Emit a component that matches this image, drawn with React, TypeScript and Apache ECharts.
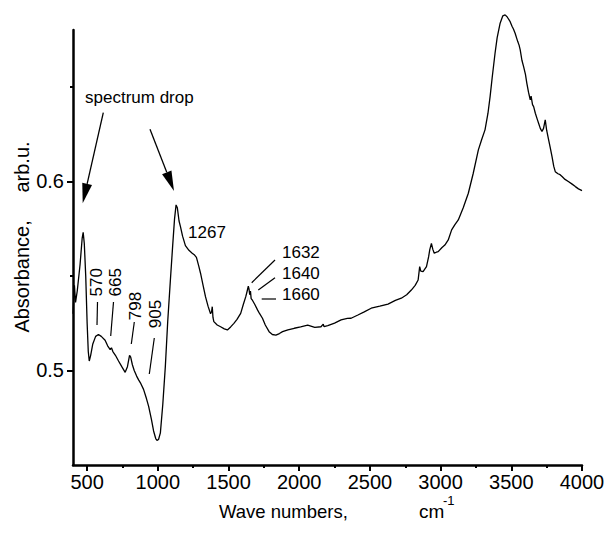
import React, { useEffect, useRef } from "react";
import * as echarts from "echarts";

// ---- data ----
const waveNumbers: number[] = [
  400, 410, 418, 430, 450, 465, 472, 480, 490, 500, 508, 515, 525, 540, 560, 580, 600, 627, 645, 663, 672, 682,
  700, 722, 745, 769, 785, 800, 808, 820, 833, 850, 864, 880, 899, 920, 935, 955, 970, 985, 994, 1005, 1018,
  1035, 1053, 1070, 1089, 1105, 1118, 1129, 1138, 1150, 1160, 1175, 1195, 1220, 1243, 1260, 1273, 1290, 1302,
  1320, 1337, 1355, 1373, 1380, 1385, 1390, 1396, 1420, 1444, 1470, 1492, 1515, 1538, 1560, 1586, 1605, 1622,
  1632, 1640, 1645, 1650, 1655, 1660, 1670, 1685, 1705, 1720, 1740, 1760, 1787, 1810, 1835, 1860, 1882, 1920,
  1965, 2010, 2060, 2110, 2154, 2170, 2175, 2202, 2250, 2296, 2340, 2367, 2415, 2460, 2509, 2570, 2628, 2680,
  2722, 2760, 2793, 2820, 2841, 2852, 2860, 2876, 2900, 2915, 2923, 2935, 2945, 2955, 2970, 2983, 3010, 3030,
  3054, 3078, 3100, 3125, 3160, 3196, 3230, 3267, 3290, 3314, 3335, 3350, 3365, 3385, 3400, 3421, 3440, 3456,
  3470, 3492, 3505, 3515, 3527, 3545, 3555, 3563, 3575, 3587, 3600, 3610, 3622, 3634, 3640, 3650, 3658, 3670,
  3685, 3693, 3705, 3717, 3728, 3740, 3750, 3764, 3775, 3788, 3800, 3811, 3830, 3845, 3859, 3880, 3906, 3930,
  3953, 3975, 4000,
];
const absorbance: number[] = [
  0.53, 0.545, 0.536, 0.542, 0.556, 0.57, 0.573, 0.567, 0.55, 0.525, 0.51, 0.505, 0.508, 0.514, 0.518, 0.519,
  0.518, 0.516, 0.513, 0.511, 0.512, 0.51, 0.508, 0.505, 0.502, 0.499, 0.502, 0.508, 0.507, 0.503, 0.5, 0.497,
  0.495, 0.493, 0.49, 0.485, 0.481, 0.474, 0.468, 0.464, 0.463, 0.4635, 0.467, 0.482, 0.502, 0.526, 0.548,
  0.566, 0.58, 0.5875, 0.586, 0.579, 0.576, 0.571, 0.566, 0.5635, 0.562, 0.561, 0.5598, 0.555, 0.5514, 0.545,
  0.539, 0.534, 0.53, 0.531, 0.5337, 0.528, 0.5258, 0.524, 0.5231, 0.522, 0.5214, 0.523, 0.5249, 0.527, 0.5302,
  0.535, 0.539, 0.542, 0.5445, 0.543, 0.54, 0.542, 0.538, 0.537, 0.535, 0.532, 0.53, 0.5276, 0.524, 0.5205,
  0.519, 0.5187, 0.5195, 0.5205, 0.5215, 0.5223, 0.523, 0.524, 0.5228, 0.5231, 0.5245, 0.5232, 0.5237, 0.525,
  0.5267, 0.5275, 0.5276, 0.5293, 0.531, 0.5329, 0.534, 0.5351, 0.537, 0.5382, 0.54, 0.5425, 0.545, 0.5478,
  0.5549, 0.5525, 0.5522, 0.5549, 0.56, 0.5637, 0.5672, 0.564, 0.562, 0.5625, 0.5628, 0.565, 0.5663, 0.569,
  0.5743, 0.577, 0.5796, 0.586, 0.5937, 0.604, 0.6166, 0.622, 0.6272, 0.636, 0.6448, 0.655, 0.6677, 0.676,
  0.6836, 0.6875, 0.688, 0.687, 0.6844, 0.682, 0.6805, 0.6783, 0.674, 0.672, 0.6695, 0.664, 0.6606, 0.6565,
  0.6518, 0.647, 0.643, 0.645, 0.6405, 0.6395, 0.636, 0.6325, 0.6307, 0.628, 0.6263, 0.628, 0.6325, 0.627,
  0.6219, 0.618, 0.613, 0.608, 0.6051, 0.604, 0.6035, 0.6025, 0.601, 0.5998, 0.5985, 0.5972, 0.596, 0.5951,
];
const xMajorTicks: number[] = [500, 1000, 1500, 2000, 2500, 3000, 3500, 4000];
const xMinorTicks: number[] = [750, 1250, 1750, 2250, 2750, 3250, 3750];
const yMajorTicks: number[] = [0.5, 0.6];
const yMinorTicks: number[] = [0.55, 0.65];
const xTitle = "Wave numbers,";
const xUnit = "cm";
const xUnitExp = "-1";
const yTitle = "Absorbance,     arb.u.";
const dropLabel = "spectrum drop";
const peakLabelsVertical: string[] = ["570", "665", "798", "905"];
const peakLabelsRight: string[] = ["1632", "1640", "1660"];
const peakLabel1267 = "1267";

const FONT = "'Liberation Sans', Arial, Helvetica, sans-serif";

function arrow(sx: number, sy: number, tx: number, ty: number, headLen = 20, headHalf = 5) {
  const dx = tx - sx;
  const dy = ty - sy;
  const len = Math.sqrt(dx * dx + dy * dy);
  const ux = dx / len;
  const uy = dy / len;
  const bx = tx - ux * headLen;
  const by = ty - uy * headLen;
  const px = -uy * headHalf;
  const py = ux * headHalf;
  return [
    { type: "line", shape: { x1: sx, y1: sy, x2: bx, y2: by }, style: { stroke: "#000", lineWidth: 1.3 } },
    {
      type: "polygon",
      shape: { points: [[tx, ty], [bx + px, by + py], [bx - px, by - py]] },
      style: { fill: "#000" },
    },
  ];
}

function seg(x1: number, y1: number, x2: number, y2: number) {
  return { type: "line", shape: { x1, y1, x2, y2 }, style: { stroke: "#000", lineWidth: 1.2 } };
}

function txt(text: string, x: number, y: number, size: number, opts: any = {}) {
  return {
    type: "text",
    x,
    y,
    rotation: opts.rotation || 0,
    style: {
      text,
      fontSize: size,
      fontFamily: FONT,
      fill: "#000",
      align: opts.align || "center",
      verticalAlign: opts.verticalAlign || "middle",
    },
  };
}

export default function App() {
  const ref = useRef<HTMLDivElement>(null);

  useEffect(() => {
    if (!ref.current) return;
    const chart = echarts.init(ref.current, undefined, { renderer: "svg" });
    const data = waveNumbers.map((w, i) => [w, absorbance[i]]);
    const axisCommon = { type: "value", splitLine: { show: false } };
    const rot = Math.PI / 2;

    const graphic: any[] = [
      // axis titles
      txt(xTitle, 219, 511, 18.5, { align: "left" }),
      txt(xUnit, 419, 511, 19, { align: "left" }),
      txt(xUnitExp, 443, 500, 13, { align: "left" }),
      txt(yTitle, 22, 237, 20, { rotation: rot }),
      // spectrum drop
      txt(dropLabel, 85, 97, 17, { align: "left" }),
      ...arrow(103.3, 112.7, 82.7, 203.3),
      ...arrow(150, 129.3, 174, 191),
      // vertical peak labels
      txt(peakLabelsVertical[0], 96.7, 282.3, 17, { rotation: rot }),
      txt(peakLabelsVertical[1], 115, 282.3, 17, { rotation: rot }),
      txt(peakLabelsVertical[2], 135, 306, 17, { rotation: rot }),
      txt(peakLabelsVertical[3], 155, 314, 17, { rotation: rot }),
      seg(97.5, 302, 97, 325),
      seg(113.5, 302, 110.7, 336),
      seg(134.3, 322, 131.3, 344),
      seg(154.3, 338, 149.3, 374),
      txt(peakLabel1267, 207, 232, 17),
      txt(peakLabelsRight[0], 282, 252.3, 17, { align: "left" }),
      txt(peakLabelsRight[1], 282, 273.3, 17, { align: "left" }),
      txt(peakLabelsRight[2], 282, 294, 17, { align: "left" }),
      seg(251.7, 282.7, 275, 260),
      seg(258.3, 290, 275, 277.7),
      seg(261.7, 299, 276, 299),
    ];

    chart.setOption({
      animation: false,
      backgroundColor: "#fff",
      grid: { left: 73, right: 24, top: 30, bottom: 69, containLabel: false, outerBoundsMode: "none" },
      xAxis: [
        {
          ...axisCommon,
          position: "bottom",
          min: 400,
          max: 4000,
          axisLine: { show: true, lineStyle: { color: "#000", width: 2.5 } },
          axisTick: { show: true, customValues: xMajorTicks, length: 6, lineStyle: { color: "#000", width: 2 } },
          axisLabel: {
            customValues: xMajorTicks,
            fontSize: 20,
            fontFamily: FONT,
            color: "#000",
            margin: 7,
            showMinLabel: true,
            showMaxLabel: true,
            formatter: (v: number) => String(Math.round(v)),
          },
        },
        {
          ...axisCommon,
          position: "bottom",
          min: 400,
          max: 4000,
          axisLine: { show: false },
          axisTick: { show: true, customValues: xMinorTicks, length: 3, lineStyle: { color: "#000", width: 2 } },
          axisLabel: { show: false },
        },
      ],
      yAxis: [
        {
          ...axisCommon,
          position: "left",
          min: 0.45,
          max: 0.68,
          axisLine: { show: true, lineStyle: { color: "#000", width: 2.5 } },
          axisTick: { show: true, customValues: yMajorTicks, length: 6, lineStyle: { color: "#000", width: 2 } },
          axisLabel: {
            customValues: yMajorTicks,
            fontSize: 20,
            fontFamily: FONT,
            color: "#000",
            margin: 9,
            formatter: (v: number) => v.toFixed(1),
          },
        },
        {
          ...axisCommon,
          position: "left",
          min: 0.45,
          max: 0.68,
          axisLine: { show: false },
          axisTick: { show: true, customValues: yMinorTicks, length: 3, lineStyle: { color: "#000", width: 2 } },
          axisLabel: { show: false },
        },
      ],
      series: [
        {
          type: "line",
          xAxisIndex: 0,
          yAxisIndex: 0,
          data,
          showSymbol: false,
          clip: false,
          lineStyle: { color: "#000", width: 1.3 },
        },
      ],
      graphic,
    });

    return () => chart.dispose();
  }, []);

  return (
    <div
      ref={ref}
      style={{ position: "absolute", left: 0, top: 0, width: 606, height: 534, background: "#fff" }}
    />
  );
}
